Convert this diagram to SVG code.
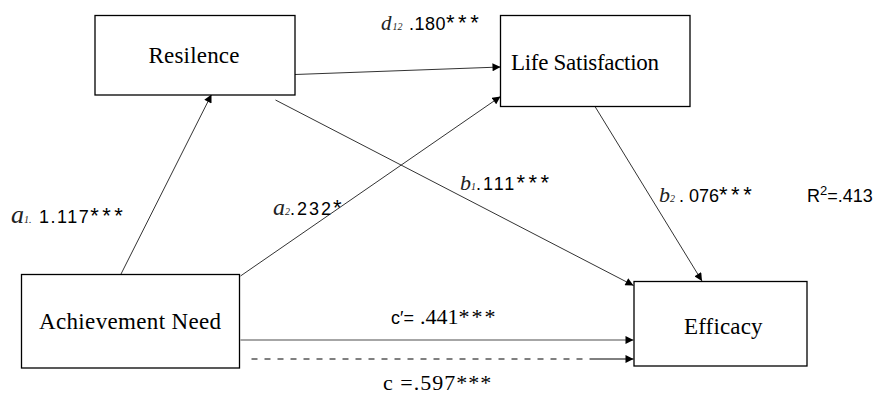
<svg xmlns="http://www.w3.org/2000/svg" width="882" height="394" viewBox="0 0 882 394">
<defs>
<style>
.box{fill:#fff;stroke:#000;stroke-width:1.3}
.nt{font-family:"Liberation Serif","Times New Roman",serif;font-size:23px;fill:#000}
.ln{stroke:#333;stroke-width:1;fill:none}
.lb{font-family:"Liberation Sans",Arial,sans-serif;font-size:18px;fill:#000}
.as{font-size:22px;letter-spacing:3.5px}
.it{font-family:"Liberation Serif","Times New Roman",serif;font-style:italic;fill:#222}
.sr{font-family:"Liberation Serif","Times New Roman",serif;font-size:22px;fill:#000}
</style>
<marker id="ah" viewBox="0 0 10 10" refX="10" refY="5" markerWidth="9" markerHeight="8" markerUnits="userSpaceOnUse" orient="auto">
<path d="M0,0 L10,5 L0,10 Z" fill="#000"/>
</marker>
</defs>
<rect width="882" height="394" fill="#fff"/>

<g id="connectors">
<line class="ln" x1="295" y1="74.5" x2="500.5" y2="67" marker-end="url(#ah)"/>
<line class="ln" x1="118.5" y1="279" x2="211.5" y2="94.5" marker-end="url(#ah)"/>
<line class="ln" x1="240.5" y1="276" x2="500.5" y2="96.5" marker-end="url(#ah)"/>
<line class="ln" x1="275.5" y1="100" x2="633.5" y2="285.5" marker-end="url(#ah)"/>
<line class="ln" x1="595" y1="106.5" x2="702" y2="281" marker-end="url(#ah)"/>
<line x1="240.5" y1="340" x2="633.5" y2="340" stroke="#888" stroke-width="1.6" marker-end="url(#ah)"/>
<line x1="251.5" y1="359" x2="592" y2="359" stroke="#000" stroke-width="1" stroke-dasharray="6,7"/>
<line x1="592" y1="359" x2="633.5" y2="359" stroke="#000" stroke-width="1" marker-end="url(#ah)"/>
</g>

<g id="resilience">
<rect class="box" x="95" y="15.5" width="200" height="79.5"/>
<text class="nt" x="148.5" y="62.5" textLength="91" lengthAdjust="spacing">Resilence</text>
</g>
<g id="life-satisfaction">
<rect class="box" x="500.5" y="15.5" width="189.5" height="91"/>
<text class="nt" x="511" y="69.5" textLength="148" lengthAdjust="spacing">Life Satisfaction</text>
</g>
<g id="achievement-need">
<rect class="box" x="21.5" y="274.5" width="218" height="93.5"/>
<text class="nt" x="39" y="328.5" textLength="182" lengthAdjust="spacing">Achievement Need</text>
</g>
<g id="efficacy">
<rect class="box" x="634" y="281.5" width="173" height="84.5"/>
<text class="nt" x="684" y="333.5" textLength="78.5" lengthAdjust="spacing">Efficacy</text>
</g>

<g id="labels">
<text x="381" y="30"><tspan class="it" font-size="21">d</tspan><tspan class="it" font-size="10" dx="1">12</tspan></text>
<text class="lb" x="409" y="30"><tspan letter-spacing="0.5">.180</tspan><tspan class="as" letter-spacing="4.5">***</tspan></text>

<text x="11" y="223"><tspan class="it" font-size="26">a</tspan><tspan class="it" font-size="10">1.</tspan></text>
<text class="lb" x="39" y="223"><tspan letter-spacing="1.5">1.117</tspan><tspan class="as" letter-spacing="3">***</tspan></text>

<text x="273" y="215"><tspan class="it" font-size="24">a</tspan><tspan class="it" font-size="10">2</tspan></text>
<text class="lb" x="290" y="215"><tspan letter-spacing="2">.232</tspan><tspan class="as" font-size="24">*</tspan></text>

<text x="460" y="190"><tspan class="it" font-size="22">b</tspan><tspan class="it" font-size="10">1</tspan></text>
<text class="lb" x="476" y="190"><tspan letter-spacing="2">.111</tspan><tspan class="as">***</tspan></text>

<text x="659" y="202"><tspan class="it" font-size="22">b</tspan><tspan class="it" font-size="10">2</tspan></text>
<text class="lb" x="679" y="202">. 076<tspan class="as">***</tspan></text>

<text class="lb" x="807" y="202" font-size="21">R<tspan font-size="13" dy="-7">2</tspan><tspan dy="7">=.413</tspan></text>

<text x="391" y="323.5"><tspan class="lb" font-size="20">c′=</tspan><tspan class="sr" dx="6">.441</tspan><tspan class="sr" letter-spacing="2">***</tspan></text>

<text class="sr" x="383" y="390" letter-spacing="1">c =.597***</text>
</g>
</svg>
